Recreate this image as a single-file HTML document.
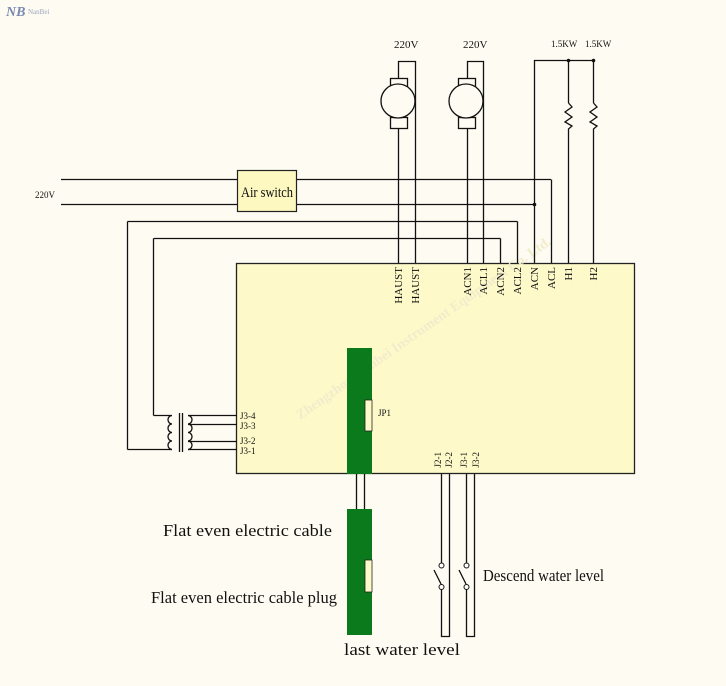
<!DOCTYPE html>
<html><head><meta charset="utf-8"><style>
html,body{margin:0;padding:0;background:#fefcf2;}
svg{display:block;}
text{font-family:"Liberation Serif",serif;fill:#111;}
</style></head><body>
<svg width="726" height="686" viewBox="0 0 726 686" xmlns="http://www.w3.org/2000/svg">
<rect width="726" height="686" fill="#fefcf2"/>
<text x="6" y="16" font-size="14" font-weight="bold" style="fill:#7a88b0;font-style:italic">NB</text>
<text x="28" y="14" font-size="7" style="fill:#9aa4c0">NanBei</text>

<rect x="236.5" y="263.5" width="398" height="210" fill="#fdf9c9" stroke="#222" stroke-width="1.3"/>
<text x="300" y="420" font-size="14" transform="rotate(-35 300 420)" style="fill:#f1eccb" font-weight="bold">Zhengzhou Nanbei Instrument Equipment Co. Ltd.</text>

<g stroke="#111" stroke-width="1.3" fill="none">
<line x1="61" y1="179.5" x2="551" y2="179.5"/>
<line x1="61" y1="204.5" x2="534" y2="204.5"/>
<line x1="127.5" y1="221.5" x2="517.5" y2="221.5"/>
<line x1="153.5" y1="238.5" x2="500.5" y2="238.5"/>
<line x1="127.5" y1="221.5" x2="127.5" y2="449.5"/>
<line x1="153.5" y1="238.5" x2="153.5" y2="415.5"/>
<line x1="551.5" y1="179.5" x2="551.5" y2="263"/>
<line x1="517.5" y1="221.5" x2="517.5" y2="263"/>
<line x1="500.5" y1="238.5" x2="500.5" y2="263"/>
<polyline points="398.5,263 398.5,61.5 415.5,61.5 415.5,263"/>
<polyline points="467.5,263 467.5,61.5 483.5,61.5 483.5,263"/>
<polyline points="534.5,263 534.5,60.5 593.5,60.5 593.5,103"/>
<line x1="568.5" y1="60.5" x2="568.5" y2="103"/>
<polyline points="568.5,103 572,107 565,112 572,117 565,122 572,126 568.5,129 568.5,263"/>
<polyline points="593.5,103 597,107 590,112 597,117 590,122 597,126 593.5,129 593.5,263"/>
<line x1="127.5" y1="449.5" x2="172" y2="449.5"/>
<line x1="153.5" y1="415.5" x2="172" y2="415.5"/>
<path d="M172,415.5 a4,4.25 0 0 0 0,8.5 a4,4.25 0 0 0 0,8.5 a4,4.25 0 0 0 0,8.5 a4,4.25 0 0 0 0,8.5"/>
<line x1="179.5" y1="413" x2="179.5" y2="452"/>
<line x1="182.5" y1="413" x2="182.5" y2="452"/>
<path d="M188,415.5 a4,4.25 0 0 1 0,8.5 a4,4.25 0 0 1 0,8.5 a4,4.25 0 0 1 0,8.5 a4,4.25 0 0 1 0,8.5"/>
<line x1="188" y1="415.5" x2="237" y2="415.5"/>
<line x1="188" y1="424.5" x2="237" y2="424.5"/>
<line x1="188" y1="441.5" x2="237" y2="441.5"/>
<line x1="188" y1="449.5" x2="237" y2="449.5"/>
<line x1="356.5" y1="474" x2="356.5" y2="509"/>
<line x1="364.5" y1="474" x2="364.5" y2="509"/>
<polyline points="441.5,474 441.5,563"/>
<polyline points="449.5,474 449.5,636.5 441.5,636.5 441.5,588"/>
<polyline points="466.5,474 466.5,563"/>
<polyline points="474.5,474 474.5,636.5 466.5,636.5 466.5,588"/>
<line x1="434" y1="570" x2="441" y2="584"/>
<line x1="459" y1="570" x2="466" y2="584"/>
</g>
<g fill="#fff" stroke="#111" stroke-width="1">
<circle cx="441.5" cy="565.5" r="2.5"/><circle cx="441.5" cy="587" r="2.5"/>
<circle cx="466.5" cy="565.5" r="2.5"/><circle cx="466.5" cy="587" r="2.5"/>
</g>
<g stroke="#111" stroke-width="1.3" fill="#fefcf2">
<rect x="390.5" y="78.5" width="17" height="10"/>
<rect x="390.5" y="117.5" width="17" height="11"/>
<circle cx="398" cy="101" r="17"/>
<rect x="458.5" y="78.5" width="17" height="10"/>
<rect x="458.5" y="117.5" width="17" height="11"/>
<circle cx="466" cy="101" r="17"/>
</g>
<g fill="#111"><circle cx="568.5" cy="60.5" r="1.8"/><circle cx="593.5" cy="60.5" r="1.8"/><circle cx="534.5" cy="204.5" r="1.8"/></g>
<rect x="237.5" y="170.5" width="59" height="41" fill="#fdf7c0" stroke="#222" stroke-width="1.2"/>
<text x="267" y="197" font-size="15" text-anchor="middle" textLength="52" lengthAdjust="spacingAndGlyphs">Air switch</text>
<rect x="347" y="348" width="25" height="126" fill="#0b7a1c"/>
<rect x="365" y="400" width="7" height="31" fill="#fdf9c9" stroke="#222" stroke-width="0.8"/>
<rect x="347" y="509" width="25" height="126" fill="#0b7a1c"/>
<rect x="365" y="560" width="7" height="32" fill="#fdf9c9" stroke="#222" stroke-width="0.8"/>
<text x="35" y="198" font-size="9">220V</text>
<text x="394" y="48" font-size="11">220V</text>
<text x="463" y="48" font-size="11">220V</text>
<text x="551" y="47" font-size="9">1.5KW</text>
<text x="585" y="47" font-size="9">1.5KW</text>
<g font-size="11" text-anchor="end">
<text transform="translate(402,267) rotate(-90)">HAUST</text>
<text transform="translate(419,267) rotate(-90)">HAUST</text>
<text transform="translate(471,267) rotate(-90)">ACN1</text>
<text transform="translate(487,267) rotate(-90)">ACL1</text>
<text transform="translate(504,267) rotate(-90)">ACN2</text>
<text transform="translate(521,267) rotate(-90)">ACL2</text>
<text transform="translate(538,267) rotate(-90)">ACN</text>
<text transform="translate(555,267) rotate(-90)">ACL</text>
<text transform="translate(572,267) rotate(-90)">H1</text>
<text transform="translate(597,267) rotate(-90)">H2</text>
</g>
<g font-size="9" text-anchor="end">
<text transform="translate(441,452) rotate(-90)">J2-1</text>
<text transform="translate(452,452) rotate(-90)">J2-2</text>
<text transform="translate(467,452) rotate(-90)">J3-1</text>
<text transform="translate(479,452) rotate(-90)">J3-2</text>
</g>
<g font-size="9">
<text x="240" y="419">J3-4</text>
<text x="240" y="429">J3-3</text>
<text x="240" y="444">J3-2</text>
<text x="240" y="454">J3-1</text>
<text x="378" y="416">JP1</text>
</g>
<g font-size="17">
<text x="163" y="536" textLength="169" lengthAdjust="spacingAndGlyphs">Flat even electric cable</text>
<text x="151" y="603" textLength="186" lengthAdjust="spacingAndGlyphs">Flat even electric cable plug</text>
<text x="483" y="581" textLength="121" lengthAdjust="spacingAndGlyphs">Descend water level</text>
<text x="344" y="655" textLength="116" lengthAdjust="spacingAndGlyphs">last water level</text>
</g>
</svg>
</body></html>
